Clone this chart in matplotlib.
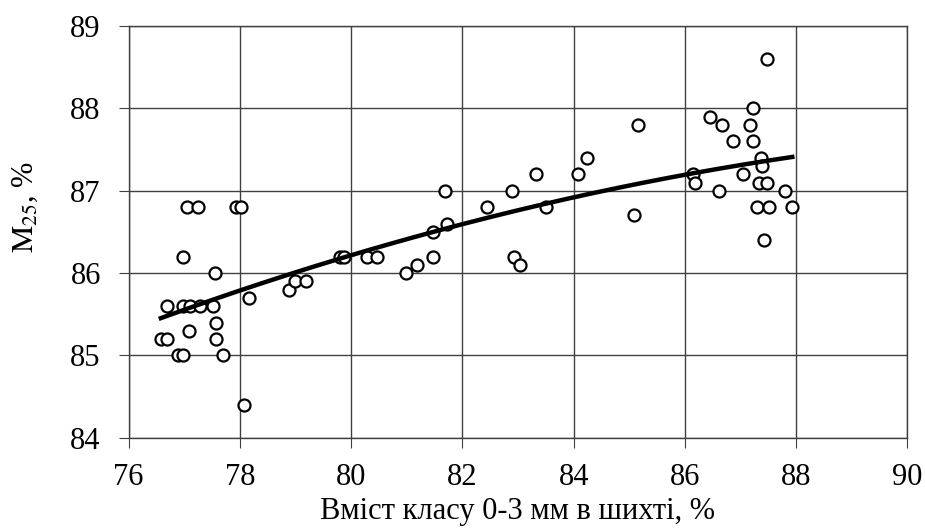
import numpy as np
import matplotlib
matplotlib.use("Agg")
import matplotlib.pyplot as plt

plt.rcParams['font.family'] = ['Liberation Serif', 'DejaVu Serif']
plt.rcParams['mathtext.fontset'] = 'stix'

# --- дані ---
vmist = [77.05, 77.24, 77.93, 78.02, 76.98, 77.55, 76.69, 76.98, 77.10, 77.28,
         77.51, 78.17, 77.09, 77.57, 77.57, 76.58, 76.69, 76.89, 76.98, 77.70,
         78.08, 78.89, 78.99, 79.19, 79.80, 79.87, 80.28, 80.46, 80.99, 81.18,
         81.48, 81.48, 81.72, 81.68, 82.45, 82.89, 82.93, 83.04, 83.32, 83.51,
         84.07, 84.24, 85.16, 85.09, 86.15, 86.18, 86.45, 86.66, 86.62, 86.87,
         87.05, 87.22, 87.17, 87.23, 87.37, 87.38, 87.34, 87.48, 87.30, 87.51,
         87.42, 87.47, 87.80, 87.93]
m25 = [86.8, 86.8, 86.8, 86.8, 86.2, 86.0, 85.6, 85.6, 85.6, 85.6,
       85.6, 85.7, 85.3, 85.4, 85.2, 85.2, 85.2, 85.0, 85.0, 85.0,
       84.4, 85.8, 85.9, 85.9, 86.2, 86.2, 86.2, 86.2, 86.0, 86.1,
       86.2, 86.5, 86.6, 87.0, 86.8, 87.0, 86.2, 86.1, 87.2, 86.8,
       87.2, 87.4, 87.8, 86.7, 87.2, 87.1, 87.9, 87.8, 87.0, 87.6,
       87.2, 88.0, 87.8, 87.6, 87.4, 87.3, 87.1, 87.1, 86.8, 86.8,
       86.4, 88.6, 87.0, 86.8]

x_ticks = [76, 78, 80, 82, 84, 86, 88, 90]
y_ticks = [84, 85, 86, 87, 88, 89]

x = np.array(vmist)
y = np.array(m25)

# поліноміальна лінія тренду 2-го ступеня
coef = np.polyfit(x, y, 2)
xt = np.linspace(x.min(), x.max(), 200)
yt = np.polyval(coef, xt)

fig = plt.figure(figsize=(9.25, 5.32), dpi=100)
ax = fig.add_axes([0.139, 0.177, 0.842, 0.774])

ax.scatter(x, y, s=75, facecolors='white', edgecolors='black', linewidths=1.6, zorder=3)
ax.plot(xt, yt, color='black', linewidth=3.2, zorder=4)

ax.set_xlim(76, 90)
ax.set_ylim(84, 89)
ax.set_xticks(x_ticks)
ax.set_yticks(y_ticks)
ax.grid(True, color='#404040', linewidth=1.0)
ax.set_axisbelow(True)
for s in ax.spines.values():
    s.set_color('#404040')
    s.set_linewidth(1.0)
ax.tick_params(labelsize=22, length=7, color='#404040', direction='out')
ax.tick_params(axis='x', pad=11)
ax.tick_params(axis='y', pad=13)

ax.set_xlabel('Вміст класу 0-3 мм в шихті, %', fontsize=22, labelpad=4)
ax.set_ylabel(r'$\mathrm{M}_{25}$, %', fontsize=22)
ax.yaxis.set_label_coords(-0.114, 0.56)

fig.savefig('out.png', dpi=100)
